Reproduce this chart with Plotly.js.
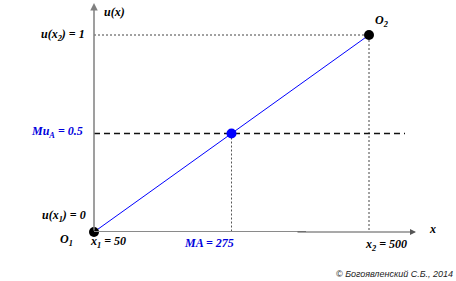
<!DOCTYPE html>
<html>
<head>
<meta charset="utf-8">
<script src="https://cdn.plot.ly/plotly-3.0.1.min.js"></script>
<style>html,body{margin:0;padding:0;background:#fff;}#chart{width:456px;height:281px;}</style>
</head>
<body>
<div id="chart"></div>
<script>
// Data
const x1 = 50, x2 = 500, MA = 275;
const u1 = 0, u2 = 1, MuA = 0.5;
const lineX = [x1, x2];
const lineY = [u1, u2];
const endX = [x1, x2];
const endY = [u1, u2];
const maX = [MA];
const maY = [MuA];
const dashY = [MuA, MuA];

const pxPerX = 275 / 450;
const xMin = 50, xMax = 50 + 322 / pxPerX;
const yMax = 229 / 197;
function dx(px) { return 50 + (px - 94) / pxPerX; }
function qx(px) { return (px - 94) / 322; }
function qy(py) { return (232 - py) / 229; }

const traces = [
  // dotted guides
  {x: [x1, x2, x2], y: [u2, u2, u1], mode: 'lines', line: {color: '#444', width: 1, dash: '2px,2px'}, hoverinfo: 'skip', cliponaxis: false},
  {x: [MA, MA], y: [MuA, u1], mode: 'lines', line: {color: '#555', width: 1, dash: '2px,2px'}, hoverinfo: 'skip', cliponaxis: false},
  // dashed MuA line
  {x: [x1, dx(405)], y: dashY, mode: 'lines', line: {color: '#111', width: 1.3, dash: '6px,4px'}, hoverinfo: 'skip', cliponaxis: false},
  // utility line
  {x: lineX, y: lineY, mode: 'lines', line: {color: '#0000ff', width: 1}, cliponaxis: false},
  // end points
  {x: endX, y: endY, mode: 'markers', marker: {color: '#000', size: 10}, cliponaxis: false},
  // MA point
  {x: maX, y: maY, mode: 'markers', marker: {color: '#0000ff', size: 10}, cliponaxis: false}
];

const serif = {family: 'Liberation Serif, Times New Roman, serif', size: 12, color: '#000', weight: 'bold', style: 'italic'};
const blueSerif = Object.assign({}, serif, {color: '#0000dd'});
function lab(text, px, py, anchor, font) {
  return {x: qx(px), y: qy(py), xref: 'paper', yref: 'paper', text: text, showarrow: false, xanchor: anchor, yanchor: 'middle', font: font || serif};
}

const annotations = [
  // y axis arrow
  {x: x1, y: yMax, ax: x1, ay: 0, xref: 'x', yref: 'y', axref: 'x', ayref: 'y', text: '', showarrow: true, arrowhead: 2, arrowsize: 1, arrowwidth: 1.5, arrowcolor: '#808080'},
  // x axis arrow (end part)
  {x: xMax, y: 0, ax: dx(296), ay: 0, xref: 'x', yref: 'y', axref: 'x', ayref: 'y', text: '', showarrow: true, arrowhead: 2, arrowsize: 1, arrowwidth: 1.2, arrowcolor: '#555'},
  lab('u(x)', 102, 12, 'left'),
  lab('u(x<sub>2</sub>) = 1', 87, 35, 'right'),
  lab('Mu<sub>A</sub> = 0.5', 85, 132, 'right', blueSerif),
  lab('u(x<sub>1</sub>) = 0', 88, 216, 'right'),
  lab('O<sub>1</sub>', 66, 240, 'center'),
  lab('x<sub>1</sub> = 50', 108, 242, 'center'),
  lab('MA = 275', 209, 243, 'center', blueSerif),
  lab('x<sub>2</sub> = 500', 386, 245, 'center'),
  lab('x', 432, 229, 'center'),
  lab('O<sub>2</sub>', 381, 21, 'center'),
  {x: qx(455), y: qy(274), xref: 'paper', yref: 'paper', text: '© Богоявленский С.Б., 2014', showarrow: false, xanchor: 'right', yanchor: 'middle',
   font: {family: 'Liberation Sans, Arial, sans-serif', size: 9, color: '#222', style: 'italic'}}
];

const shapes = [
  {type: 'line', xref: 'x', yref: 'y', x0: x1, x1: dx(306), y0: 0, y1: 0, line: {color: '#8a8a8a', width: 2}}
];

const layout = {
  width: 456, height: 281,
  margin: {l: 94, r: 40, t: 3, b: 49},
  paper_bgcolor: '#fff', plot_bgcolor: '#fff',
  showlegend: false,
  xaxis: {range: [xMin, xMax], showgrid: false, zeroline: false, showticklabels: false, ticks: '', showline: false},
  yaxis: {range: [0, yMax], showgrid: false, zeroline: false, showticklabels: false, ticks: '', showline: false},
  annotations: annotations,
  shapes: shapes
};

Plotly.newPlot('chart', traces, layout, {staticPlot: true, displayModeBar: false});
</script>
</body>
</html>
